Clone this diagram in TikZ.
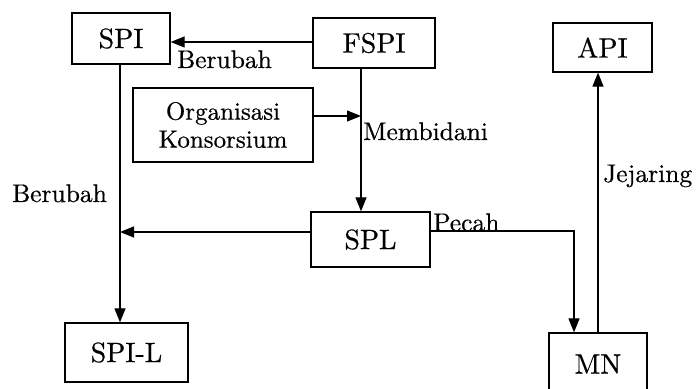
\documentclass[tikz,border=0pt]{standalone}
\usepackage{fontspec}
\setmainfont{lmroman10-regular.otf}[UprightFeatures={FakeBold=0.5}]
\usetikzlibrary{arrows.meta}
\begin{document}
\begin{tikzpicture}[x=1pt,y=1pt,
  box/.style={draw,line width=1.3pt,inner sep=0pt,font=\fontsize{28}{30}\selectfont},
  lbl/.style={inner sep=0pt,font=\fontsize{25.5}{28}\selectfont},
  conn/.style={line width=1.2pt,-{Triangle[length=14pt,width=11pt]}},
  plain/.style={line width=1.2pt}]
\clip (0,0) rectangle (698,388);
\fill[white] (0,0) rectangle (698,388);
% boxes
\node[box,minimum width=98pt,minimum height=51pt] (SPI) at (121,349.5) {SPI};
\node[box,minimum width=122pt,minimum height=50pt] (FSPI) at (374,345) {FSPI};
\node[box,minimum width=180pt,minimum height=74pt,align=center,font=\fontsize{25}{28}\selectfont] (ORG) at (223,263) {Organisasi\\Konsorsium};
\node[box,minimum width=119pt,minimum height=55pt] (SPL) at (370.5,148.5) {SPL};
\node[box,minimum width=123pt,minimum height=59pt] (SPIL) at (126.5,35.5) {SPI-L};
\node[box,minimum width=99pt,minimum height=49pt] (API) at (602.5,340.5) {API};
\node[box,minimum width=98pt,minimum height=62pt] (MN) at (598,24) {MN};
% helper coordinates
\coordinate (fx) at (361,0);
\coordinate (sx) at (120,0);
\coordinate (j1) at (120,156);
\coordinate (pk) at (574,157);
% connectors
\draw[conn] (FSPI.west |- 0,346) -- (SPI.east |- 0,346);
\draw[conn] (FSPI.south -| fx) -- (SPL.north -| fx);
\draw[conn] (ORG.east |- 0,272) -- (fx |- 0,272);
\draw[conn] (SPI.south -| sx) -- (SPIL.north -| sx);
\draw[conn] (SPL.west |- j1) -- (j1);
\draw[conn] (SPL.east |- pk) -- (pk) -- (MN.north -| pk);
\draw[conn] (MN.north) -- (MN.north |- API.south);
% labels
\node[lbl,anchor=base west] (L1) at (177,320) {Berubah};
\node[lbl,anchor=base west] (L2) at (363,248) {Membidani};
\node[lbl,anchor=base west] (L3) at (12,186) {Berubah};
\node[lbl,anchor=base west] (L4) at (433,157) {Pecah};
\node[lbl,anchor=base west] (L5) at (603,206) {Jejaring};
\end{tikzpicture}
\end{document}
